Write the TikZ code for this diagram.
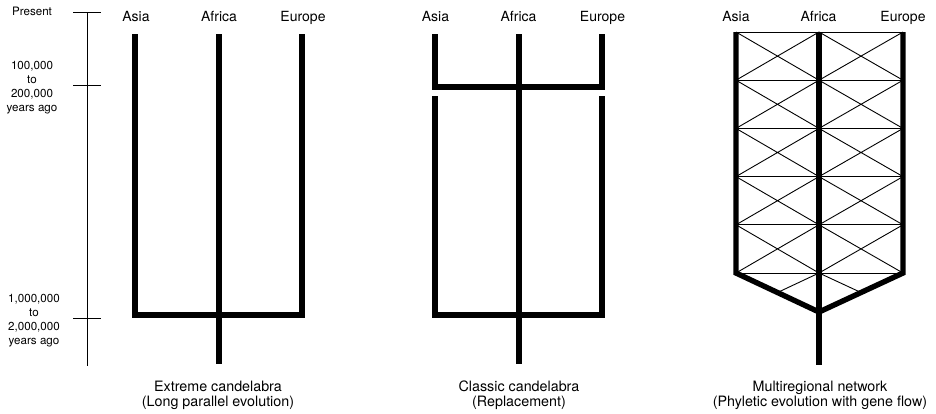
\documentclass[tikz,border=0pt]{standalone}
\usepackage{fontspec}
\setmainfont{TeX Gyre Heros}
\begin{document}
\begin{tikzpicture}[x=1pt,y=-1pt,
  thick line/.style={line width=5.4pt,line join=miter},
  thin line/.style={line width=0.9pt},
  axis line/.style={line width=0.8pt},
  region/.style={font=\fontsize{14}{16}\selectfont,anchor=base,inner sep=0pt},
  timelbl/.style={font=\fontsize{11.6}{14}\selectfont,align=center,inner sep=0pt,anchor=base},
  caption/.style={font=\fontsize{14.3}{15}\selectfont,align=center,inner sep=0pt,anchor=base}]
\useasboundingbox (0,0) rectangle (936,413);

% time axis
\coordinate (axT) at (87,12);
\coordinate (axB) at (87,366);
\draw[axis line] (axT) -- (axB);
\coordinate (t1a) at (73,12);  \coordinate (t1b) at (101,12);
\coordinate (t2a) at (73,85);  \coordinate (t2b) at (101,85);
\coordinate (t3a) at (73,318); \coordinate (t3b) at (101,318);
\draw[axis line] (t1a) -- (t1b);
\draw[axis line] (t2a) -- (t2b);
\draw[axis line] (t3a) -- (t3b);
\node[timelbl] (present) at (32,15) {Present};
\node[timelbl] (l1a) at (32,69) {100,000};
\node[timelbl] (l1b) at (32,83) {to};
\node[timelbl] (l1c) at (32,97) {200,000};
\node[timelbl] (l1d) at (32,111) {years ago};
\node[timelbl] (l2a) at (34,302) {1,000,000};
\node[timelbl] (l2b) at (34,316) {to};
\node[timelbl] (l2c) at (34,330) {2,000,000};
\node[timelbl] (l2d) at (34,344) {years ago};

% ---------- panel 1 ----------
\node[region] (as1) at (136,21) {Asia};
\node[region] (af1) at (219,21) {Africa};
\node[region] (eu1) at (303,21) {Europe};
\coordinate (p1a) at (135,34);  \coordinate (p1ab) at (135,315);
\coordinate (p1e) at (302,34);  \coordinate (p1eb) at (302,315);
\coordinate (p1c) at (219,34);  \coordinate (p1cb) at (219,364);
\draw[thick line] (p1a) -- (p1ab) -- (p1eb) -- (p1e);
\draw[thick line] (p1c) -- (p1cb);
\node[caption] (c1) at (218,406) {Extreme candelabra\\(Long parallel evolution)};

% ---------- panel 2 ----------
\node[region] (as2) at (435.5,21) {Asia};
\node[region] (af2) at (518.5,21) {Africa};
\node[region] (eu2) at (602.5,21) {Europe};
\coordinate (p2a) at (435,34);  \coordinate (p2am) at (435,87);
\coordinate (p2e) at (602,34);  \coordinate (p2em) at (602,87);
\coordinate (p2al) at (435,96); \coordinate (p2ab) at (435,315);
\coordinate (p2el) at (602,96); \coordinate (p2eb) at (602,315);
\coordinate (p2c) at (519,34);  \coordinate (p2cb) at (519,364);
\draw[thick line] (p2a) -- (p2am) -- (p2em) -- (p2e);
\draw[thick line] (p2al) -- (p2ab) -- (p2eb) -- (p2el);
\draw[thick line] (p2c) -- (p2cb);
\node[caption] (c2) at (519,406) {Classic candelabra\\(Replacement)};

% ---------- panel 3 ----------
\node[region] (as3) at (736,21) {Asia};
\node[region] (af3) at (818.5,21) {Africa};
\node[region] (eu3) at (903,21) {Europe};
\def\xa{736}\def\xc{819}\def\xe{903}
\foreach \k in {0,...,5}{
  \pgfmathsetmacro\yy{32+\k*48.2}
  \draw[thin line] (\xa,\yy) -- (\xe,\yy);
}
\foreach \k in {0,...,4}{
  \pgfmathsetmacro\ya{32+\k*48.2}
  \pgfmathsetmacro\yb{32+(\k+1)*48.2}
  \draw[thin line] (\xa,\ya) -- (\xc,\yb) (\xc,\ya) -- (\xa,\yb);
  \draw[thin line] (\xc,\ya) -- (\xe,\yb) (\xe,\ya) -- (\xc,\yb);
}
\coordinate (p3a) at (736,32);  \coordinate (p3ab) at (736,273);
\coordinate (p3e) at (903,32);  \coordinate (p3eb) at (903,273);
\coordinate (p3v) at (819,312);
\coordinate (p3c) at (819,32);  \coordinate (p3cb) at (819,365);
\coordinate (p3m) at (819,273);
\coordinate (p3ml) at (777.5,292.5); \coordinate (p3mr) at (861,292.5);
\draw[thin line] (p3m) -- (p3ml);
\draw[thin line] (p3m) -- (p3mr);
\draw[thick line] (p3a) -- (p3ab) -- (p3v) -- (p3eb) -- (p3e);
\draw[thick line] (p3c) -- (p3cb);
\node[caption] (c3) at (820,406) {Multiregional network\\(Phyletic evolution with gene flow)};
\end{tikzpicture}
\end{document}
